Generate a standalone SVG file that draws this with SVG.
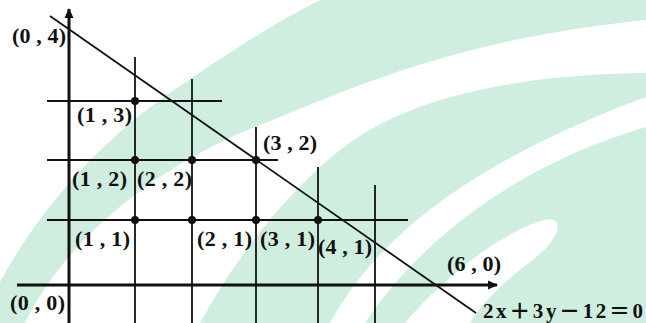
<svg xmlns="http://www.w3.org/2000/svg" width="646" height="323" viewBox="0 0 646 323">
<style>
.bg{fill:#cfeedf;stroke:none}
.wh{fill:#ffffff;stroke:none}
.ax{stroke:#111;stroke-width:3;fill:none}
.gr{stroke:#111;stroke-width:1.8;fill:none}
.dg{stroke:#111;stroke-width:1.8;fill:none}
.dot{fill:#111}
.lb{font-family:"Times New Roman","Liberation Serif",serif;font-weight:bold;font-size:22px;fill:#111}
.eq{font-family:"Times New Roman","Liberation Serif","Noto Sans CJK SC",serif;font-weight:bold;font-size:21px;fill:#111}
</style>
<defs>
<marker id="arr" viewBox="0 0 10 10" refX="9" refY="5" markerWidth="10" markerHeight="10" markerUnits="userSpaceOnUse" orient="auto">
<path d="M0,0.5 L10,5 L0,9.5 Z" fill="#111"/>
</marker>
</defs>
<rect width="646" height="323" fill="#fff"/>
<g id="background">
<path class="bg" d="M -20,323 C 20,230 90,150 160,100 C 220,58 270,25 320,0 L 646,0 L 646,20 C 450,40 350,90 260,125 C 170,160 70,230 25,323 Z"/>
<path class="bg" d="M 200,323 C 240,250 290,190 340,150 C 390,110 480,75 646,73 L 646,97 C 450,170 370,250 330,323 Z"/>
<path class="bg" d="M 365,323 C 410,255 500,170 646,127 L 646,323 Z"/>
<path class="wh" d="M 405,323 C 450,270 510,228 545,220 C 565,216 562,238 530,262 C 500,285 480,305 470,323 Z"/>
</g>
<g id="connectors">
<line class="ax" x1="69" y1="323" x2="69" y2="9" marker-end="url(#arr)"/>
<line class="ax" x1="17" y1="285" x2="497" y2="285" marker-end="url(#arr)"/>
<line class="gr" x1="135" y1="57" x2="135" y2="323"/>
<line class="gr" x1="192" y1="79" x2="192" y2="323"/>
<line class="gr" x1="256" y1="127" x2="256" y2="323"/>
<line class="gr" x1="318" y1="167" x2="318" y2="323"/>
<line class="gr" x1="375" y1="185" x2="375" y2="323"/>
<line class="gr" x1="47" y1="101" x2="222" y2="101"/>
<line class="gr" x1="47" y1="160" x2="278" y2="160"/>
<line class="gr" x1="47" y1="220" x2="408" y2="220"/>
<line class="dg" x1="50" y1="16" x2="476" y2="313"/>
</g>
<g id="p13"><circle class="dot" cx="135" cy="101" r="4"/><text class="lb" x="77" y="122" textLength="55">(1 , 3)</text></g>
<g id="p12"><circle class="dot" cx="135" cy="160" r="4"/><text class="lb" x="72" y="186" textLength="55">(1 , 2)</text></g>
<g id="p22"><circle class="dot" cx="192" cy="160" r="4"/><text class="lb" x="137" y="186" textLength="55">(2 , 2)</text></g>
<g id="p32"><circle class="dot" cx="256" cy="160" r="4"/><text class="lb" x="263" y="150" textLength="54">(3 , 2)</text></g>
<g id="p11"><circle class="dot" cx="135" cy="220" r="4"/><text class="lb" x="75" y="246" textLength="55">(1 , 1)</text></g>
<g id="p21"><circle class="dot" cx="192" cy="220" r="4"/><text class="lb" x="197" y="246" textLength="55">(2 , 1)</text></g>
<g id="p31"><circle class="dot" cx="256" cy="220" r="4"/><text class="lb" x="260" y="246" textLength="55">(3 , 1)</text></g>
<g id="p41"><circle class="dot" cx="318" cy="220" r="4"/><text class="lb" x="318" y="254" textLength="54">(4 , 1)</text></g>
<g id="p04"><text class="lb" x="12" y="43" textLength="54">(0 , 4)</text></g>
<g id="p60"><text class="lb" x="447" y="271" textLength="54">(6 , 0)</text></g>
<g id="p00"><text class="lb" x="10" y="310" textLength="55">(0 , 0)</text></g>
<g id="equation"><text class="eq" x="483" y="318" textLength="160">2x＋3y－12＝0</text></g>
</svg>
